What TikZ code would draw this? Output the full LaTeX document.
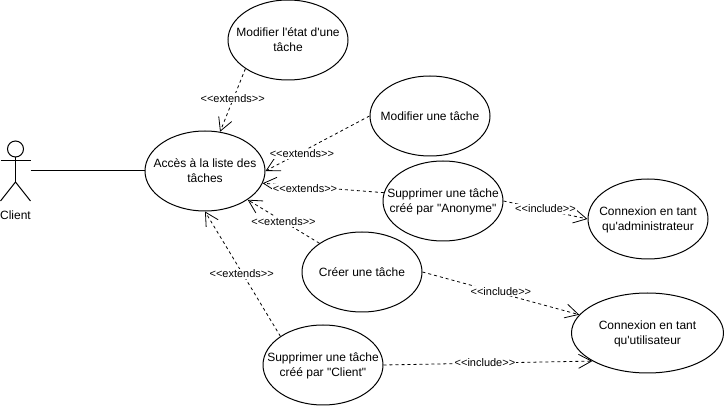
\documentclass[tikz,border=0pt]{standalone}
\usepackage{fontspec}
\setmainfont[Ligatures=TeXOff]{Liberation Sans}
\usetikzlibrary{arrows.meta,shapes.geometric}
\newcommand{\casetext}[1]{\makebox[0pt]{\raisebox{-1.5pt}[\height][\depth]{\begin{tabular}{@{}c@{}}#1\end{tabular}}}}
\tikzset{
  usecase/.style={draw,ellipse,line width=1pt,inner sep=0pt,minimum width=120,minimum height=80,font=\fontsize{12}{15}\selectfont},
  dep/.style={->,dash pattern=on 3pt off 3pt,line width=.8pt},
  stereo/.style={fill=white,inner sep=1pt,font=\fontsize{11}{13}\selectfont,pos=.5,solid}
}
\begin{document}
\begin{tikzpicture}[x=1pt,y=-1pt,>={Straight Barb[length=13pt,width=14pt]},line width=1pt]
  \useasboundingbox (0,0) rectangle (724,406);
  \node[usecase] (ETAT) at (288,40) {\casetext{Modifier l'état d'une\\tâche}};
  \node[usecase] (ACCES) at (205,171) {\casetext{Accès à la liste des\\tâches}};
  \node[usecase] (MODIF) at (430,116) {\casetext{Modifier une tâche}};
  \node[usecase] (ANON) at (443,201) {\casetext{Supprimer une tâche\\créé par "Anonyme"}};
  \node[usecase] (ADMIN) at (648,219) {\casetext{Connexion en tant\\qu'administrateur}};
  \node[usecase] (CREER) at (362,272) {\casetext{Créer une tâche}};
  \node[usecase,minimum width=152] (UTIL) at (647.5,333) {\casetext{Connexion en tant\\qu'utilisateur}};
  \node[usecase] (CLIENT) at (323,365) {\casetext{Supprimer une tâche\\créé par "Client"}};
  % actor
  \node[draw,circle,inner sep=0pt,minimum size=16] (HEAD) at (15.5,149) {};
  \coordinate (HIP) at (15.5,182);
  \coordinate (LARM) at (0.5,161);
  \coordinate (RARM) at (30.5,161);
  \coordinate (LFOOT) at (0.5,201);
  \coordinate (RFOOT) at (30.5,201);
  \coordinate (HAND) at (30.5,171);
  \node[font=\fontsize{12}{15}\selectfont] (ACTOR) at (15.5,215) {Client};
  \draw (HEAD) -- (HIP);
  \draw (LARM) -- (RARM);
  \draw (LFOOT) -- (HIP) -- (RFOOT);
  \draw (HAND) -- (ACCES.west);
  % extends
  \path[dep] (ETAT.214.6) edge node[stereo,yshift=2pt] {<<extends>>} (ACCES.69);
  \path[dep] (MODIF.west) edge node[stereo,pos=.65,yshift=-2pt] {<<extends>>} (ACCES.east);
  \path[dep] (ANON.172) edge node[stereo,pos=.65,yshift=-2pt] {<<extends>>} (ACCES.-12);
  \path[dep] (CREER.146) edge node[stereo] {<<extends>>} (ACCES.-34);
  \path[dep] (CLIENT.146.6) edge node[stereo,xshift=-1pt] {<<extends>>} (ACCES.south);
  % include
  \path[dep] (ANON.east) edge node[stereo,yshift=1pt] {<<include>>} (ADMIN.west);
  \path[dep] (CREER.east) edge node[stereo,yshift=2pt] {<<include>>} (UTIL.165);
  \path[dep] (CLIENT.east) edge node[stereo,xshift=-3pt] {<<include>>} (UTIL.207);
\end{tikzpicture}
\end{document}
